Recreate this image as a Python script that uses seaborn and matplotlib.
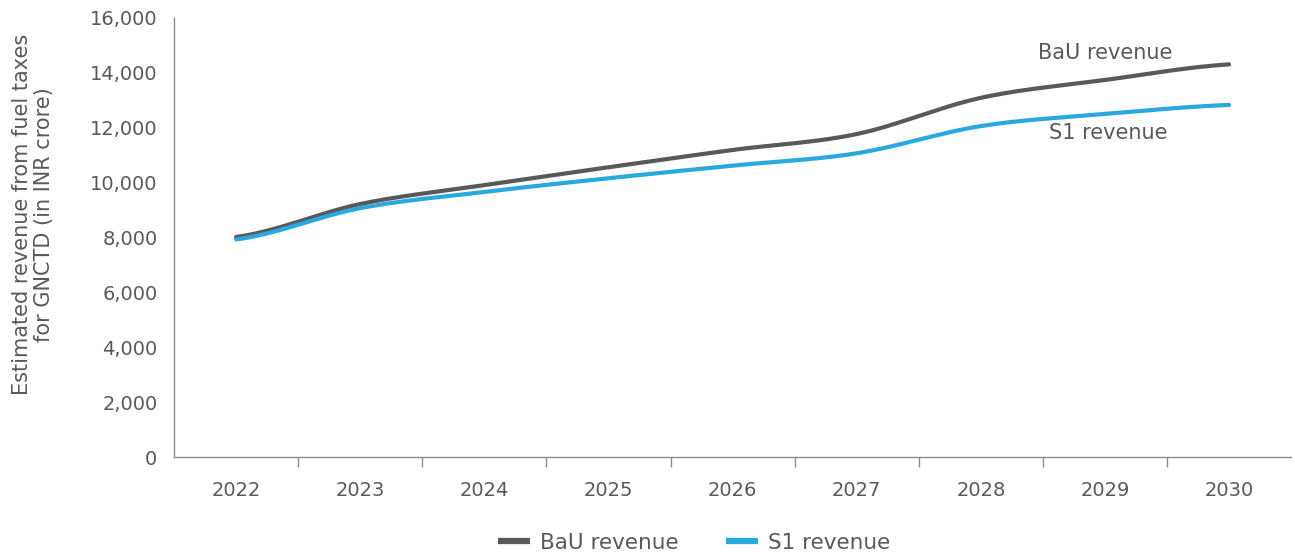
import numpy as np
import pandas as pd
import matplotlib
matplotlib.use("Agg")
import matplotlib.pyplot as plt
from matplotlib.lines import Line2D
from matplotlib.ticker import FuncFormatter, FixedLocator
import seaborn as sns

# Estimated revenue from fuel taxes (INR crore)
years = [2022, 2023, 2024, 2025, 2026, 2027, 2028, 2029, 2030]
bau_revenue = [8020, 9220, 9910, 10560, 11190, 11770, 13090, 13740, 14310]
s1_revenue = [7930, 9070, 9660, 10160, 10620, 11070, 12060, 12500, 12830]
series_names = ["BaU revenue", "S1 revenue"]
y_ticks = [0, 2000, 4000, 6000, 8000, 10000, 12000, 14000, 16000]

BAU_COLOR = "#595959"
S1_COLOR = "#29A9E0"
TEXT_COLOR = "#595959"
AXIS_COLOR = "#8C8C8C"


def smooth_curve(values, steps=40):
    """Catmull-Rom rendering of a series (spreadsheet-style smoothed line).
    The curve passes exactly through every value."""
    p = np.asarray(values, dtype=float)
    x = np.arange(len(p), dtype=float)
    xs, ys = [], []
    for i in range(len(p) - 1):
        p0 = p[i - 1] if i > 0 else p[i]
        p1, p2 = p[i], p[i + 1]
        p3 = p[i + 2] if i + 2 < len(p) else p[i + 1]
        t = np.linspace(0, 1, steps, endpoint=(i == len(p) - 2))
        y = 0.5 * ((2 * p1) + (-p0 + p2) * t
                   + (2 * p0 - 5 * p1 + 4 * p2 - p3) * t ** 2
                   + (-p0 + 3 * p1 - 3 * p2 + p3) * t ** 3)
        xs.append(x[i] + t)
        ys.append(y)
    return np.concatenate(xs), np.concatenate(ys)


frames = []
for name, vals in zip(series_names, [bau_revenue, s1_revenue]):
    cx, cy = smooth_curve(vals)
    frames.append(pd.DataFrame({"pos": cx, "revenue": cy, "series": name}))
curves = pd.concat(frames, ignore_index=True)

sns.set_theme(style="white")
plt.rcParams["font.family"] = ["DejaVu Sans"]

fig = plt.figure(figsize=(12.95, 5.57), dpi=100)
ax = fig.add_axes([0.1344, 0.1795, 0.8626, 0.7882])

sns.lineplot(data=curves, x="pos", y="revenue", hue="series",
             palette=[BAU_COLOR, S1_COLOR], linewidth=3.0,
             estimator=None, sort=False, legend=False, ax=ax)

ax.set_xlim(-0.5, len(years) - 0.5)
ax.set_ylim(0, 16000)

# Category labels at centres, tick marks on category boundaries
ax.set_xticks(range(len(years)))
ax.set_xticklabels([str(y) for y in years])
ax.xaxis.set_minor_locator(FixedLocator(np.arange(0.5, len(years) - 1, 1.0)))
ax.tick_params(axis="x", which="major", length=0, pad=17,
               labelsize=14, labelcolor=TEXT_COLOR)
ax.tick_params(axis="x", which="minor", length=7, width=1,
               color=AXIS_COLOR, bottom=True)

ax.set_yticks(y_ticks)
ax.yaxis.set_major_formatter(FuncFormatter(lambda v, _: f"{int(v):,}"))
ax.tick_params(axis="y", length=0, pad=12, labelsize=14,
               labelcolor=TEXT_COLOR)

for side in ["top", "right"]:
    ax.spines[side].set_visible(False)
for side in ["left", "bottom"]:
    ax.spines[side].set_color(AXIS_COLOR)
    ax.spines[side].set_linewidth(1.0)

ax.set_xlabel("")
ax.set_ylabel("")
fig.text(0.0255, 0.615, "Estimated revenue from fuel taxes\nfor GNCTD (in INR crore)",
         rotation=90, ha="center", va="center", multialignment="center",
         fontsize=15, color=TEXT_COLOR, linespacing=1.15)

# Series annotations near the line ends
ax.text(7.0, 14720, "BaU revenue", ha="center", va="center",
        fontsize=15, color=TEXT_COLOR)
ax.text(7.03, 11810, "S1 revenue", ha="center", va="center",
        fontsize=15, color=TEXT_COLOR)

handles = [Line2D([0], [0], color=BAU_COLOR, lw=4.5, solid_capstyle="butt"),
           Line2D([0], [0], color=S1_COLOR, lw=4.5, solid_capstyle="butt")]
fig.legend(handles, series_names, loc="center", ncol=2, frameon=False,
           bbox_to_anchor=(0.536, 0.026), fontsize=15.5, handlelength=1.5,
           handletextpad=0.45, columnspacing=2.2, labelcolor=TEXT_COLOR)

fig.savefig("out.png", dpi=100)
